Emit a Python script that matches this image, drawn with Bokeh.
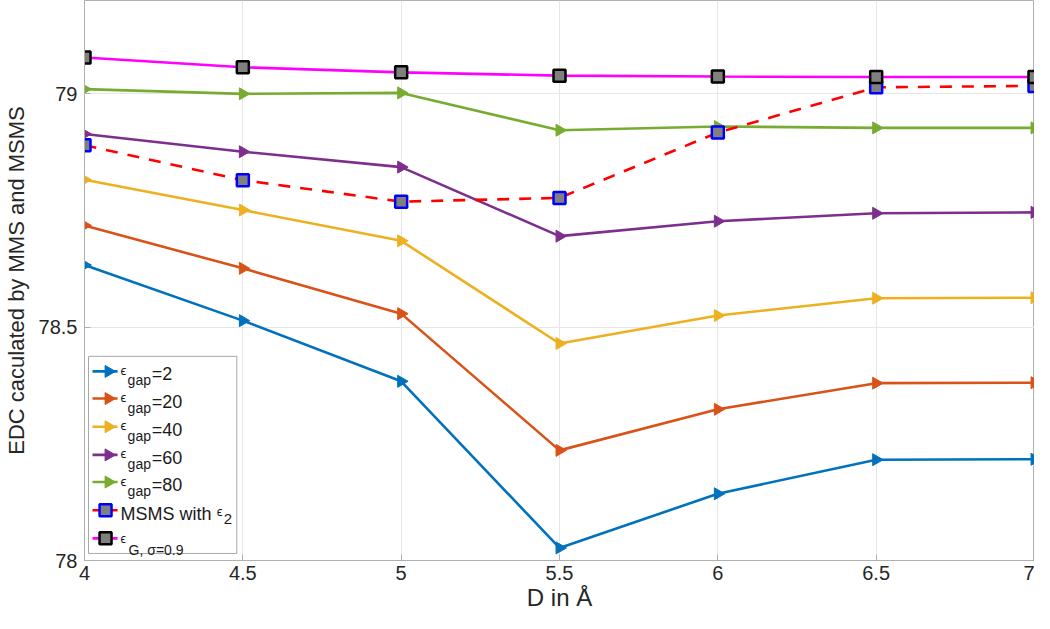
import math
from bokeh.plotting import figure
from bokeh.models import FixedTicker, Range1d
from bokeh.core.properties import value
from bokeh.embed import file_html
from bokeh.resources import INLINE

# ---------------- data ----------------
d_values = [4, 4.5, 5, 5.5, 6, 6.5, 7]
gap2 = [78.633, 78.514, 78.384, 78.027, 78.143, 78.216, 78.217]
gap20 = [78.718, 78.626, 78.529, 78.236, 78.324, 78.380, 78.381]
gap40 = [78.816, 78.751, 78.685, 78.465, 78.525, 78.562, 78.563]
gap60 = [78.914, 78.876, 78.843, 78.695, 78.727, 78.744, 78.746]
gap80 = [79.010, 79.000, 79.002, 78.922, 78.930, 78.927, 78.927]
msms_eps2 = [78.890, 78.815, 78.769, 78.777, 78.917, 79.014, 79.017]
eps_gauss = [79.078, 79.057, 79.046, 79.039, 79.037, 79.036, 79.036]

gap_values = ["2", "20", "40", "60", "80"]
x_ticks = [4, 4.5, 5, 5.5, 6, 6.5, 7]
x_tick_labels = ["4", "4.5", "5", "5.5", "6", "6.5", "7"]
y_ticks = [78, 78.5, 79]
y_tick_labels = ["78", "78.5", "79"]

# ---------------- style ----------------
colors = ["#0072BD", "#D95319", "#EDB120", "#7E2F8E", "#77AC30"]
FONT = "Liberation Sans"
X_MIN, X_MAX = 4, 7
Y_MIN, Y_MAX = 78, 79.2

p = figure(width=1034, height=613, output_backend="svg", toolbar_location=None,
           x_range=Range1d(X_MIN, X_MAX), y_range=Range1d(Y_MIN, Y_MAX),
           min_border_top=0, min_border_right=0, min_border_left=0, min_border_bottom=0)
p.background_fill_color = "white"
p.border_fill_color = "white"
p.outline_line_color = "#b0b0b0"
p.outline_line_width = 1

p.xaxis.ticker = FixedTicker(ticks=x_ticks)
p.yaxis.ticker = FixedTicker(ticks=y_ticks)
p.xaxis.major_label_overrides = {t: l for t, l in zip(x_ticks, x_tick_labels)}
p.yaxis.major_label_overrides = {t: l for t, l in zip(y_ticks, y_tick_labels)}
for ax in (p.xaxis[0], p.yaxis[0]):
    ax.major_tick_in = 6
    ax.major_tick_out = 0
    ax.minor_tick_line_color = None
    ax.axis_line_color = "#b0b0b0"
    ax.major_tick_line_color = "#b0b0b0"
    ax.major_label_text_font = FONT
    ax.major_label_text_font_size = "20px"
    ax.major_label_text_color = "#262626"
    ax.axis_label_text_font = FONT
    ax.axis_label_text_font_style = "normal"
    ax.axis_label_text_color = "#262626"
p.xaxis.axis_label = "D in Å"
p.xaxis.axis_label_text_font_size = "24px"
p.xaxis.major_label_standoff = 5
p.xaxis.axis_label_standoff = 1
p.yaxis.axis_label = "EDC caculated by MMS and MSMS"
p.yaxis.axis_label_text_font_size = "22px"
p.yaxis.major_label_standoff = 7
p.yaxis.axis_label_standoff = 7

p.grid.grid_line_color = "#e6e6e6"
p.grid.grid_line_width = 1

TRI_ANGLE = -math.pi / 2

series = [gap2, gap20, gap40, gap60, gap80]
for ys, c in zip(series, colors):
    p.line(d_values, ys, line_color=c, line_width=2.6)
    p.scatter(d_values, ys, marker="triangle", angle=TRI_ANGLE, size=12,
              fill_color=c, line_color=c)

p.line(d_values, msms_eps2, line_color="#FF0000", line_width=2.6, line_dash="12 10")
p.scatter(d_values, msms_eps2, marker="square", size=12, fill_color="#808080",
          line_color="#0000FF", line_width=2.5)

p.line(d_values, eps_gauss, line_color="#FF00FF", line_width=2.6)
p.scatter(d_values, eps_gauss, marker="square", size=12, fill_color="#808080",
          line_color="#000000", line_width=2.5)

# ---------------- legend (manual, for sub-scripted labels) ----------------
# reference frame geometry (pixels) used to place the legend
FX0, FX1, FY_TOP, FY_BOT = 84, 1032, 6.2, 563


def px2x(px):
    return X_MIN + (px - FX0) / (FX1 - FX0) * (X_MAX - X_MIN)


def px2y(py):
    return Y_MIN + (FY_BOT - py) / (FY_BOT - FY_TOP) * (Y_MAX - Y_MIN)


p.quad(left=[px2x(88)], right=[px2x(236)], top=[px2y(360)], bottom=[px2y(556)],
       fill_color="white", line_color="#a8a8a8", line_width=1)

rows = [375, 402, 430, 458, 485, 513, 541]


def ltext(px, py, s, size):
    p.text([px2x(px)], [px2y(py)], text=[s], text_font=value(FONT),
           text_font_size=size, text_baseline="alphabetic", text_align="left",
           text_color="#1a1a1a")


for i, (c, g) in enumerate(zip(colors, gap_values)):
    ry = rows[i]
    p.line([px2x(92), px2x(117)], [px2y(ry), px2y(ry)], line_color=c, line_width=2.6)
    p.scatter([px2x(108)], [px2y(ry)], marker="triangle", angle=TRI_ANGLE, size=12,
              fill_color=c, line_color=c)
    ltext(120, ry - 1, "ϵ", "13px")
    ltext(127, ry + 9, "gap", "14px")
    ltext(151, ry + 3, "=" + g, "18px")

ry = rows[5]
p.line([px2x(92), px2x(117)], [px2y(ry), px2y(ry)], line_color="#FF0000", line_width=2.6)
p.scatter([px2x(105)], [px2y(ry)], marker="square", size=12, fill_color="#808080",
          line_color="#0000FF", line_width=2.5)
ltext(120, ry + 4, "MSMS with", "18px")
ltext(216, ry + 1, "ϵ", "13px")
ltext(223, ry + 9, "2", "15px")

ry = rows[6]
p.line([px2x(92), px2x(117)], [px2y(ry), px2y(ry)], line_color="#FF00FF", line_width=2.6)
p.scatter([px2x(105)], [px2y(ry)], marker="square", size=12, fill_color="#808080",
          line_color="#000000", line_width=2.5)
ltext(120, ry + 1, "ϵ", "12px")
ltext(128, ry + 12, "G, σ=0.9", "14px")

open("out.html", "w").write(file_html(p, INLINE))
